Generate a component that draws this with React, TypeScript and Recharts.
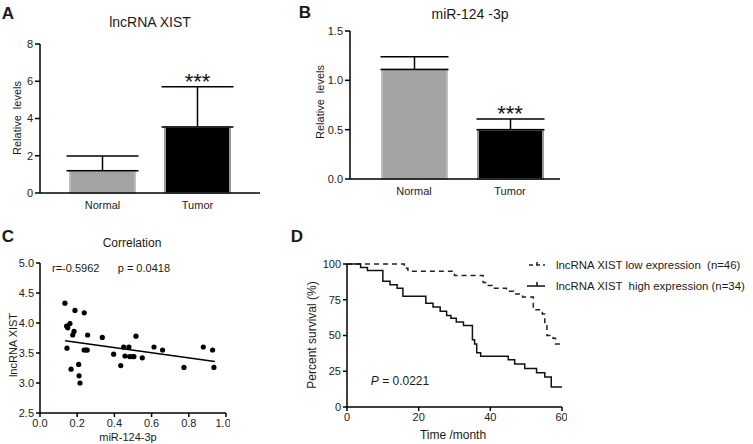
import React from "react";
import {
  BarChart, Bar, Cell, XAxis, YAxis, ErrorBar, ReferenceDot,
  ScatterChart, Scatter, ReferenceLine, LineChart, Line,
} from "recharts";

// panel A / B
const groups = ["Normal", "Tumor"];
const xistMean = [1.2, 3.55];
const xistErr = [0.78, 2.15];
const mirMean = [1.11, 0.5];
const mirErr = [0.13, 0.107];
const barFill = ["#a3a3a3", "#000000"];
const barStroke = ["#bdbdbd", "#9a9a9a"];

// panel C
const corrX = [0.134, 0.143, 0.149, 0.161, 0.145, 0.167, 0.176, 0.183, 0.188, 0.208, 0.21, 0.215, 0.238, 0.237, 0.247, 0.256, 0.254, 0.335, 0.396, 0.434, 0.45, 0.457, 0.478, 0.482, 0.498, 0.505, 0.516, 0.55, 0.613, 0.659, 0.774, 0.878, 0.928, 0.935];
const corrY = [4.33, 3.95, 3.92, 3.99, 3.58, 3.23, 3.8, 3.86, 4.21, 3.31, 3.12, 3.0, 4.17, 3.55, 3.55, 3.8, 3.55, 3.76, 3.48, 3.29, 3.6, 3.45, 3.6, 3.44, 3.44, 3.44, 3.78, 3.42, 3.6, 3.55, 3.26, 3.6, 3.55, 3.26];
const fitX = [0.135, 0.94];
const fitY = [3.705, 3.36];

// panel D
const lowTime = [0, 16, 17, 30, 38, 39, 40.5, 44.5, 46.5, 49, 52, 54.5, 55.2, 55.8, 57.5, 58.2, 60];
const lowSurv = [100, 97, 95, 92, 87, 85, 83, 81, 79, 77, 68, 65, 58, 50, 48, 44, 44];
const highTime = [0, 3.8, 5.7, 10, 12, 14, 15.6, 22, 24, 26, 27.8, 29, 30.5, 32.5, 35, 35.6, 36.2, 37.3, 45, 46.8, 49.6, 52.9, 55.2, 57, 60];
const highSurv = [100, 97.5, 95.5, 88, 85.5, 83, 77.5, 72.5, 70, 67, 64, 62, 59.5, 57, 47, 44, 38, 35.5, 33, 30, 27, 24, 21, 14, 14];

const xistData = groups.map((name, i) => ({ name, v: xistMean[i], err: [0, xistErr[i]] }));
const mirData = groups.map((name, i) => ({ name, v: mirMean[i], err: [0, mirErr[i]] }));
const corrData = corrX.map((x, i) => ({ x, y: corrY[i] }));
const lowData = lowTime.map((t, i) => ({ t, s: lowSurv[i] }));
const highData = highTime.map((t, i) => ({ t, s: highSurv[i] }));

const axisLine = { stroke: "#000", strokeWidth: 1.5 };
const tick = { fill: "#222", fontSize: 11 };

function T({ x, y, size = 11, rotate = false, bold = false, children }: any) {
  return (
    <div
      style={{
        position: "absolute", left: x, top: y, fontSize: size, lineHeight: 1,
        fontWeight: bold ? 700 : 400, whiteSpace: "pre", color: "#1a1a1a",
        transform: `translate(-50%, -50%)${rotate ? " rotate(-90deg)" : ""}`,
      }}
    >
      {children}
    </div>
  );
}

const dot = (p: any) => <circle cx={p.cx} cy={p.cy} r={2.6} fill="#000" />;

export default function App() {
  return (
    <div style={{ position: "absolute", left: 0, top: 0, width: 753, height: 444, background: "#fff", fontFamily: "Liberation Sans, Arial, sans-serif", overflow: "hidden" }}>
      {/* A */}
      <div style={{ position: "absolute", left: 0, top: 0 }}>
        <BarChart width={265} height={215} data={xistData} margin={{ top: 44, right: 5, bottom: 0, left: 0 }}>
          <XAxis dataKey="name" axisLine={axisLine} tickLine={false} tickSize={0} tickMargin={8} height={22} tick={tick} padding={{ left: 15, right: 15 }} />
          <YAxis width={40} domain={[0, 8]} ticks={[0, 2, 4, 6, 8]} axisLine={axisLine} tickLine={axisLine} tickSize={5} tick={tick} />
          <Bar dataKey="v" barSize={65} isAnimationActive={false}>
            {xistData.map((d, i) => <Cell key={d.name} fill={barFill[i]} stroke={barStroke[i]} strokeWidth={2} />)}
            <ErrorBar dataKey="err" width={36} stroke="#000" strokeWidth={1.5} direction="y" />
          </Bar>
          <ReferenceDot x="Tumor" y={xistMean[1] + xistErr[1]} r={0} label={{ value: "***", position: "top", offset: -2, fontSize: 22, fill: "#111" }} />
        </BarChart>
      </div>
      <T x={8} y={13} size={17} bold>A</T>
      <T x={150} y={22} size={14}>lncRNA XIST</T>
      <T x={17} y={118} size={11} rotate>Relative  levels</T>

      {/* B */}
      <div style={{ position: "absolute", left: 305, top: 0 }}>
        <BarChart width={257} height={201} data={mirData} margin={{ top: 31, right: 2, bottom: 0, left: 0 }}>
          <XAxis dataKey="name" axisLine={axisLine} tickLine={false} tickSize={0} tickMargin={8} height={22} tick={tick} padding={{ left: 16, right: 2 }} />
          <YAxis width={45} domain={[0, 1.5]} ticks={[0, 0.5, 1, 1.5]} tickFormatter={(v: number) => v.toFixed(1)} axisLine={axisLine} tickLine={axisLine} tickSize={5} tick={tick} />
          <Bar dataKey="v" barSize={65} isAnimationActive={false}>
            {mirData.map((d, i) => <Cell key={d.name} fill={barFill[i]} stroke={barStroke[i]} strokeWidth={2} />)}
            <ErrorBar dataKey="err" width={34} stroke="#000" strokeWidth={1.5} direction="y" />
          </Bar>
          <ReferenceDot x="Tumor" y={mirMean[1] + mirErr[1]} r={0} label={{ value: "***", position: "top", offset: -2, fontSize: 22, fill: "#111" }} />
        </BarChart>
      </div>
      <T x={305} y={12} size={17} bold>B</T>
      <T x={470} y={14} size={14}>miR-124 -3p</T>
      <T x={320} y={102} size={11} rotate>Relative  levels</T>

      {/* C */}
      <div style={{ position: "absolute", left: 0, top: 225 }}>
        <ScatterChart width={230} height={208} margin={{ top: 38, right: 4, bottom: 0, left: 0 }}>
          <XAxis type="number" dataKey="x" domain={[0, 1]} ticks={[0, 0.2, 0.4, 0.6, 0.8, 1]} tickFormatter={(v: number) => v.toFixed(1)} axisLine={axisLine} tickLine={axisLine} tickSize={4} height={20} tick={tick} />
          <YAxis type="number" dataKey="y" width={40} domain={[2.5, 5]} ticks={[2.5, 3, 3.5, 4, 4.5, 5]} tickFormatter={(v: number) => v.toFixed(1)} axisLine={axisLine} tickLine={axisLine} tickSize={4} tick={tick} />
          <Scatter data={corrData} fill="#000" shape={dot} isAnimationActive={false} />
          <ReferenceLine segment={[{ x: fitX[0], y: fitY[0] }, { x: fitX[1], y: fitY[1] }]} stroke="#000" strokeWidth={1.5} />
        </ScatterChart>
      </div>
      <T x={8} y={236} size={17} bold>C</T>
      <T x={132} y={243} size={12}>Correlation</T>
      <T x={111} y={268} size={11}>{"r=-0.5962      p = 0.0418"}</T>
      <T x={13} y={345} size={11} rotate>lncRNA XIST</T>
      <T x={128} y={437} size={11}>miR-124-3p</T>

      {/* D */}
      <div style={{ position: "absolute", left: 300, top: 240 }}>
        <LineChart width={267} height={187} margin={{ top: 24, right: 5, bottom: 0, left: 0 }}>
          <XAxis type="number" dataKey="t" domain={[0, 60]} ticks={[0, 20, 40, 60]} axisLine={axisLine} tickLine={axisLine} tickSize={4} height={20} tick={tick} allowDuplicatedCategory={false} />
          <YAxis type="number" width={47} domain={[0, 100]} ticks={[0, 25, 50, 75, 100]} axisLine={axisLine} tickLine={axisLine} tickSize={4} tick={tick} />
          <Line data={lowData} dataKey="s" type="stepAfter" stroke="#222" strokeWidth={1.5} strokeDasharray="5 4" dot={false} isAnimationActive={false} />
          <Line data={highData} dataKey="s" type="stepAfter" stroke="#111" strokeWidth={1.5} dot={false} isAnimationActive={false} />
        </LineChart>
      </div>
      <T x={297} y={236} size={17} bold>D</T>
      <T x={312} y={335} size={12} rotate>Percent survival (%)</T>
      <T x={453} y={435} size={12}>Time /month</T>
      <T x={400} y={381} size={12}><i>P</i> = 0.0221</T>
      <svg style={{ position: "absolute", left: 525, top: 258 }} width={25} height={35}>
        <line x1={4} y1={7} x2={20} y2={7} stroke="#222" strokeWidth={1.5} strokeDasharray="4 3" />
        <line x1={12} y1={4} x2={12} y2={7} stroke="#222" strokeWidth={1.5} />
        <line x1={2} y1={28} x2={20} y2={28} stroke="#111" strokeWidth={1.5} />
        <line x1={12} y1={24} x2={12} y2={28} stroke="#111" strokeWidth={1.5} />
      </svg>
      <div style={{ position: "absolute", left: 556, top: 258, fontSize: 11.4, lineHeight: "14px", whiteSpace: "pre", color: "#1a1a1a" }}>
        <div>{"lncRNA XIST low expression  (n=46)"}</div>
        <div style={{ marginTop: 7 }}>{"lncRNA XIST  high expression (n=34)"}</div>
      </div>
    </div>
  );
}
